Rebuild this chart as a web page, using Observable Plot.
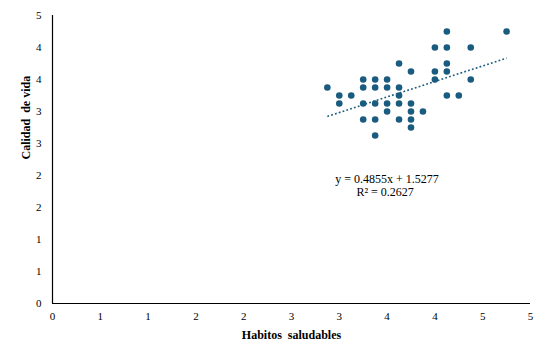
<!DOCTYPE html>
<html>
<head>
<meta charset="utf-8">
<script src="https://cdn.jsdelivr.net/npm/d3@7"></script>
<script src="https://cdn.jsdelivr.net/npm/@observablehq/plot@0.6"></script>
<style>
  html, body { margin: 0; padding: 0; background: #fff; }
  svg { font-family: "Liberation Serif", "Times New Roman", serif; }
</style>
</head>
<body>
<div id="chart"></div>
<script>
// Habitos saludables (x) and Calidad de vida (y)
const habitos = [
  4.125, 4.75, 4.0, 4.125, 4.375, 3.625, 4.125, 3.75, 4.0, 4.125,
  3.25, 3.375, 3.5, 4.0, 4.375, 2.875, 3.25, 3.375, 3.5, 3.625,
  3.0, 3.125, 3.625, 4.125, 4.25, 3.0, 3.25, 3.375, 3.5, 3.625,
  3.75, 3.5, 3.75, 3.875, 3.25, 3.375, 3.625, 3.75, 3.75, 3.375
];
const calidad = [
  4.25, 4.25, 4.0, 4.0, 4.0, 3.75, 3.75, 3.625, 3.625, 3.625,
  3.5, 3.5, 3.5, 3.5, 3.5, 3.375, 3.375, 3.375, 3.375, 3.375,
  3.25, 3.25, 3.25, 3.25, 3.25, 3.125, 3.125, 3.125, 3.125, 3.125,
  3.125, 3.0, 3.0, 3.0, 2.875, 2.875, 2.875, 2.875, 2.75, 2.625
];
const xTicks = [0, 0.5, 1, 1.5, 2, 2.5, 3, 3.5, 4, 4.5, 5];
const xTickLabels = ["0", "1", "1", "2", "2", "3", "3", "4", "4", "5", "5"];
const yTicks = [0, 0.5, 1, 1.5, 2, 2.5, 3, 3.5, 4, 4.5];
const yTickLabels = ["0", "1", "1", "2", "2", "3", "3", "4", "4", "5"];
const trendSlope = 0.4855;
const trendIntercept = 1.5277;
const equationLines = ["y = 0.4855x + 1.5277", "R² = 0.2627"];
const equationPos = [{x: 3.5, y: 1.94}, {x: 3.48, y: 1.735}];

const data = habitos.map((h, i) => ({x: h, y: calidad[i]}));
const trend = d3.extent(habitos).map(x => ({x, y: trendSlope * x + trendIntercept}));
const color = "#1a5c7f";

const chart = Plot.plot({
  width: 548,
  height: 361,
  marginLeft: 52,
  marginRight: 18,
  marginTop: 15,
  marginBottom: 58,
  style: {fontFamily: '"Liberation Serif", "Times New Roman", serif', fontSize: "11px", color: "#000", background: "#fff"},
  x: {domain: [0, 5], ticks: xTicks, tickSize: 0, tickPadding: 9,
      tickFormat: d => xTickLabels[xTicks.indexOf(d)], label: null},
  y: {domain: [0, 4.5], ticks: yTicks, tickSize: 0, tickPadding: 11,
      tickFormat: d => yTickLabels[yTicks.indexOf(d)], label: null},
  marks: [
    Plot.ruleY([0], {stroke: "#000", strokeWidth: 1.2}),
    Plot.ruleX([0], {stroke: "#000", strokeWidth: 1.2}),
    Plot.dot(data, {x: "x", y: "y", r: 3.3, fill: color, stroke: "none"}),
    Plot.line(trend, {x: "x", y: "y", stroke: color, strokeWidth: 1.6, strokeDasharray: "1.8,2.2", strokeLinecap: "butt"}),
    Plot.text(equationLines, {x: (d, i) => equationPos[i].x, y: (d, i) => equationPos[i].y, text: d => d, fontSize: 12, fill: "#000"}),
    Plot.text(["Habitos  saludables"], {frameAnchor: "bottom", dy: 35, fontSize: 12, fontWeight: "bold", fill: "#000"}),
    Plot.text(["Calidad  de vida"], {frameAnchor: "left", dx: -26, rotate: -90, fontSize: 12, fontWeight: "bold", fill: "#000"})
  ]
});
chart.style.whiteSpace = "pre";
document.getElementById("chart").appendChild(chart);
</script>
</body>
</html>
